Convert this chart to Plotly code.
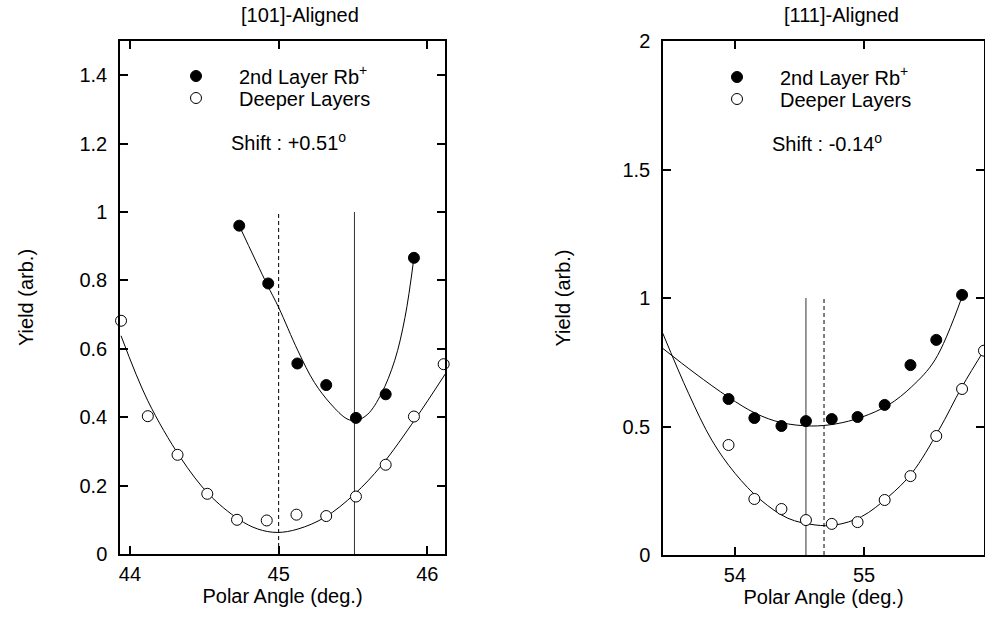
import plotly.graph_objects as go

# ---------------- Data: [101]-Aligned (left panel) ----------------
l_filled_x = [44.735, 44.93, 45.126, 45.32, 45.52, 45.72, 45.91]
l_filled_y = [0.960, 0.791, 0.557, 0.494, 0.398, 0.467, 0.866]
l_open_x = [43.94, 44.12, 44.32, 44.52, 44.72, 44.92, 45.12, 45.32, 45.52, 45.72, 45.91, 46.11]
l_open_y = [0.682, 0.403, 0.290, 0.176, 0.100, 0.098, 0.115, 0.111, 0.168, 0.261, 0.402, 0.555]
# fit curves
l_fit_filled_x = [44.735, 44.92, 45.0, 45.13, 45.24, 45.35, 45.46, 45.52, 45.60, 45.69, 45.78, 45.85, 45.91]
l_fit_filled_y = [0.960, 0.790, 0.721, 0.594, 0.502, 0.439, 0.395, 0.390, 0.409, 0.468, 0.565, 0.692, 0.866]
l_fit_open_x = [43.94, 44.12, 44.34, 44.53, 44.73, 44.86, 44.99, 45.13, 45.31, 45.51, 45.69, 45.92, 46.12]
l_fit_open_y = [0.638, 0.448, 0.282, 0.175, 0.102, 0.073, 0.063, 0.073, 0.107, 0.175, 0.258, 0.395, 0.526]
l_min_deeper = 45.0
l_min_2nd = 45.51
l_shift_text = "Shift : +0.51<sup>o</sup>"

# ---------------- Data: [111]-Aligned (right panel) ----------------
r_filled_x = [53.44, 53.95, 54.15, 54.36, 54.55, 54.75, 54.95, 55.16, 55.36, 55.56, 55.76]
r_filled_y = [0.800, 0.607, 0.533, 0.502, 0.521, 0.529, 0.537, 0.584, 0.739, 0.837, 1.012]
r_open_x = [53.44, 53.95, 54.15, 54.36, 54.55, 54.75, 54.95, 55.16, 55.36, 55.56, 55.76, 55.93]
r_open_y = [0.868, 0.428, 0.218, 0.179, 0.136, 0.121, 0.128, 0.214, 0.307, 0.463, 0.646, 0.795]
r_fit_filled_x = [53.44, 53.69, 53.95, 54.16, 54.36, 54.59, 54.78, 54.98, 55.19, 55.37, 55.55, 55.76]
r_fit_filled_y = [0.804, 0.707, 0.614, 0.551, 0.515, 0.502, 0.510, 0.536, 0.584, 0.655, 0.759, 1.005]
r_fit_open_x = [53.44, 53.64, 53.82, 54.00, 54.20, 54.41, 54.62, 54.78, 54.98, 55.19, 55.37, 55.58, 55.76, 55.94]
r_fit_open_y = [0.863, 0.629, 0.447, 0.318, 0.214, 0.143, 0.117, 0.117, 0.149, 0.227, 0.318, 0.486, 0.655, 0.804]
r_min_deeper = 54.69
r_min_2nd = 54.55
r_shift_text = "Shift : -0.14<sup>o</sup>"

line_top = 1.0
vline_y = [0, line_top]

l_xticks = [44, 45, 46]
l_yticks = [0, 0.2, 0.4, 0.6, 0.8, 1.0, 1.2, 1.4]
l_yticktext = ["0", "0.2", "0.4", "0.6", "0.8", "1", "1.2", "1.4"]
r_xticks = [54, 55]
r_yticks = [0, 0.5, 1.0, 1.5, 2.0]
r_yticktext = ["0", "0.5", "1", "1.5", "2"]

FONT = "Liberation Sans, Arial, Helvetica, sans-serif"
FS = 20
W, H = 985, 618

fig = go.Figure()

def add_panel(xa, ya, leg_f, leg_o, fx, fy, ox, oy, ffx, ffy, fox, foy, dmin, smin):
    # vertical lines: dashed = deeper layer min, solid = 2nd layer min
    fig.add_trace(go.Scatter(x=[dmin, dmin], y=vline_y, mode="lines", xaxis=xa, yaxis=ya,
                             line=dict(color="black", width=1, dash="4px,3px"), showlegend=False))
    fig.add_trace(go.Scatter(x=[smin, smin], y=vline_y, mode="lines", xaxis=xa, yaxis=ya,
                             line=dict(color="#333333", width=1), showlegend=False))
    # fit curves
    fig.add_trace(go.Scatter(x=ffx, y=ffy, mode="lines", line_shape="spline", xaxis=xa, yaxis=ya,
                             line=dict(color="black", width=1), showlegend=False))
    fig.add_trace(go.Scatter(x=fox, y=foy, mode="lines", line_shape="spline", xaxis=xa, yaxis=ya,
                             line=dict(color="black", width=1), showlegend=False))
    # data points
    fig.add_trace(go.Scatter(x=fx, y=fy, mode="markers", name="2nd Layer Rb<sup>+</sup>",
                             xaxis=xa, yaxis=ya, legend=leg_f, cliponaxis=False,
                             marker=dict(symbol="circle", size=11, color="black",
                                         line=dict(color="black", width=1))))
    fig.add_trace(go.Scatter(x=ox, y=oy, mode="markers", name="Deeper Layers",
                             xaxis=xa, yaxis=ya, legend=leg_o, cliponaxis=False,
                             marker=dict(symbol="circle", size=11, color="white",
                                         line=dict(color="black", width=1))))

add_panel("x", "y", "legend", "legend2", l_filled_x, l_filled_y, l_open_x, l_open_y,
          l_fit_filled_x, l_fit_filled_y, l_fit_open_x, l_fit_open_y, l_min_deeper, l_min_2nd)
add_panel("x2", "y2", "legend3", "legend4", r_filled_x, r_filled_y, r_open_x, r_open_y,
          r_fit_filled_x, r_fit_filled_y, r_fit_open_x, r_fit_open_y, r_min_deeper, r_min_2nd)

axis_common = dict(showline=True, linecolor="black", linewidth=1.5, mirror="ticks",
                   ticks="inside", ticklen=8, tickwidth=1.5, tickcolor="black",
                   showgrid=False, zeroline=False, automargin=False,
                   tickfont=dict(family=FONT, size=FS, color="black"))

SYM_OFF = 43  # distance from legend box left to symbol centre (itemwidth 76)

def leg(sx, sy):
    return dict(x=(sx - SYM_OFF) / W, y=1 - sy / H, xanchor="left", yanchor="middle",
                itemwidth=76, bgcolor="rgba(0,0,0,0)", borderwidth=0,
                font=dict(family=FONT, size=FS, color="black"))

fig.update_layout(
    width=W, height=H,
    margin=dict(l=0, r=0, t=0, b=0, autoexpand=False),
    paper_bgcolor="white", plot_bgcolor="white",
    font=dict(family=FONT, size=FS, color="black"),
    xaxis=dict(domain=[120 / W, 445 / W], range=[43.933, 46.119], tickvals=l_xticks,
               ticklabelstandoff=1,
               title=dict(text="Polar Angle (deg.)", standoff=1, font=dict(size=FS)),
               anchor="y", **axis_common),
    yaxis=dict(domain=[1 - 554 / H, 1 - 41 / H], range=[0, 1.5], tickvals=l_yticks,
               ticktext=l_yticktext, ticklabelstandoff=7,
               title=dict(text="Yield (arb.)", standoff=40, font=dict(size=FS)),
               anchor="x", **axis_common),
    xaxis2=dict(domain=[663 / W, 984 / W], range=[53.442, 55.93], tickvals=r_xticks,
                ticklabelstandoff=1,
                title=dict(text="Polar Angle (deg.)", standoff=1, font=dict(size=FS)),
                anchor="y2", **axis_common),
    yaxis2=dict(domain=[1 - 555 / H, 1 - 41 / H], range=[0, 2.0], tickvals=r_yticks,
                ticktext=r_yticktext, ticklabelstandoff=7,
                title=dict(text="Yield (arb.)", standoff=46, font=dict(size=FS)),
                anchor="x2", **axis_common),
    legend=leg(196, 76),
    legend2=leg(196, 98),
    legend3=leg(737, 77),
    legend4=leg(737, 99),
    showlegend=True,
)

fig.add_annotation(text="[101]-Aligned", x=300 / W, y=1 - 15 / H, xref="paper", yref="paper",
                   showarrow=False, xanchor="center", yanchor="middle", font=dict(size=FS))
fig.add_annotation(text="[111]-Aligned", x=841 / W, y=1 - 15 / H, xref="paper", yref="paper",
                   showarrow=False, xanchor="center", yanchor="middle", font=dict(size=FS))
fig.add_annotation(text=l_shift_text, x=288 / W, y=1 - 141 / H, xref="paper", yref="paper",
                   showarrow=False, xanchor="center", yanchor="middle", font=dict(size=FS))
fig.add_annotation(text=r_shift_text, x=827 / W, y=1 - 143 / H, xref="paper", yref="paper",
                   showarrow=False, xanchor="center", yanchor="middle", font=dict(size=FS))

fig.write_html("out.html", config={"displayModeBar": False},
               post_script="document.body.style.margin='0';document.body.style.overflow='hidden';")
